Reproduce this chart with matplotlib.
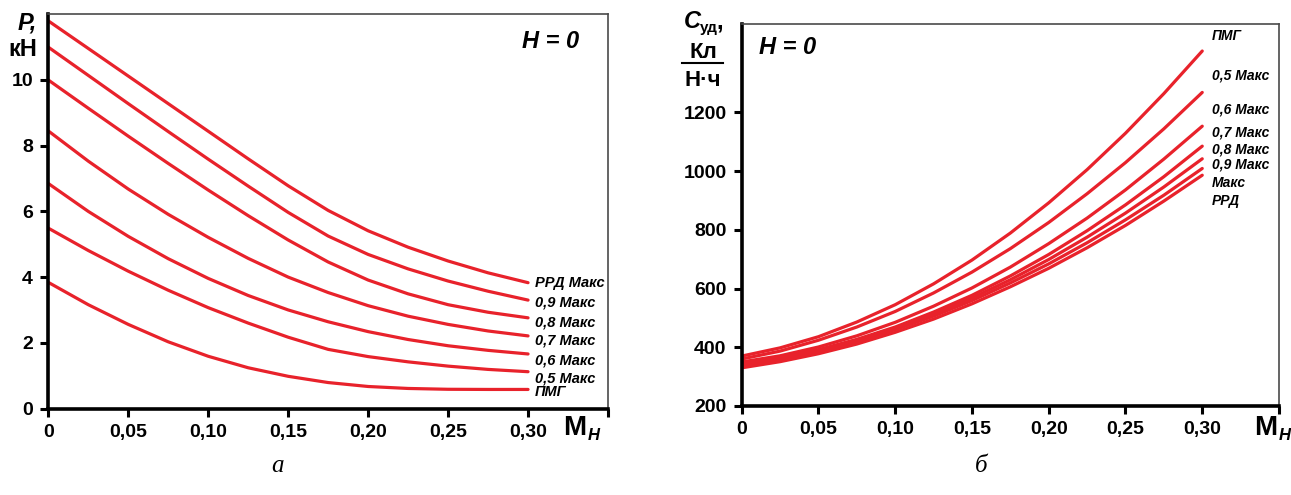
import matplotlib
matplotlib.use("Agg")
import matplotlib.pyplot as plt
from matplotlib.lines import Line2D

# --- Data ---
mach = [0, 0.025, 0.05, 0.075, 0.10, 0.125, 0.15, 0.175, 0.20, 0.225, 0.25, 0.275, 0.30]

# thrust P, kN (panel a)
thrust_labels = ["РРД Макс", "0,9 Макс", "0,8 Макс", "0,7 Макс", "0,6 Макс", "0,5 Макс", "ПМГ"]
thrust_rrd = [11.8, 10.96, 10.12, 9.28, 8.44, 7.60, 6.78, 6.03, 5.41, 4.91, 4.49, 4.13, 3.83]
thrust_09 = [11.0, 10.14, 9.28, 8.43, 7.59, 6.77, 5.97, 5.25, 4.69, 4.25, 3.88, 3.57, 3.30]
thrust_08 = [10.0, 9.14, 8.29, 7.46, 6.65, 5.87, 5.13, 4.46, 3.91, 3.49, 3.16, 2.93, 2.76]
thrust_07 = [8.45, 7.53, 6.68, 5.91, 5.21, 4.57, 4.00, 3.53, 3.13, 2.81, 2.56, 2.36, 2.21]
thrust_06 = [6.85, 6.00, 5.24, 4.56, 3.96, 3.44, 3.00, 2.64, 2.34, 2.10, 1.91, 1.77, 1.66]
thrust_05 = [5.49, 4.81, 4.18, 3.60, 3.07, 2.60, 2.17, 1.80, 1.58, 1.42, 1.29, 1.19, 1.12]
thrust_idle = [3.84, 3.16, 2.56, 2.03, 1.59, 1.24, 0.98, 0.79, 0.67, 0.61, 0.585, 0.58, 0.58]
thrust_curves = [thrust_rrd, thrust_09, thrust_08, thrust_07, thrust_06, thrust_05, thrust_idle]

# specific consumption C_ud (panel b)
sfc_labels = ["ПМГ", "0,5 Макс", "0,6 Макс", "0,7 Макс", "0,8 Макс", "0,9 Макс", "Макс\nРРД"]
sfc_idle = [370, 398, 436, 486, 545, 616, 697, 789, 892, 1005, 1129, 1264, 1409]
sfc_05 = [360, 387, 424, 469, 522, 585, 656, 736, 825, 923, 1029, 1144, 1268]
sfc_06 = [350, 371, 401, 439, 485, 540, 602, 673, 753, 840, 936, 1041, 1153]
sfc_07 = [345, 365, 392, 427, 469, 520, 577, 643, 716, 797, 885, 981, 1085]
sfc_08 = [340, 361, 389, 424, 465, 513, 568, 630, 699, 775, 857, 946, 1042]
sfc_09 = [335, 357, 385, 419, 460, 506, 559, 619, 684, 756, 834, 918, 1009]
sfc_rrd = [330, 351, 378, 411, 451, 496, 548, 606, 669, 739, 815, 898, 986]
sfc_curves = [sfc_idle, sfc_05, sfc_06, sfc_07, sfc_08, sfc_09, sfc_rrd]

x_ticks = [0, 0.05, 0.10, 0.15, 0.20, 0.25, 0.30, 0.35]
x_ticklabels = ["0", "0,05", "0,10", "0,15", "0,20", "0,25", "0,30", ""]

RED = "#e8222b"
plt.rcParams["font.family"] = ["Liberation Sans", "DejaVu Sans"]

fig = plt.figure(figsize=(12.91, 4.95), dpi=100)
W, H = 1291, 495


def px(x, y):
    return x / W, 1 - y / H


def style_axes(ax):
    for s in ("left", "bottom"):
        ax.spines[s].set_linewidth(2.6)
        ax.spines[s].set_color("black")
    for s in ("top", "right"):
        ax.spines[s].set_linewidth(1.2)
        ax.spines[s].set_color("#4a4a4a")
    ax.tick_params(direction="out", length=6, width=2.2, labelsize=14, pad=5)
    for lab in ax.get_xticklabels() + ax.get_yticklabels():
        lab.set_fontweight("bold")
    ax.set_xlim(0, 0.35)
    ax.set_xticks(x_ticks)
    ax.set_xticklabels(x_ticklabels, fontweight="bold")


# --- panel a ---
ax1 = fig.add_axes([48.3 / W, 1 - 408.5 / H, (608 - 48.3) / W, (408.5 - 14.3) / H])
for curve in thrust_curves:
    ax1.plot(mach, curve, color=RED, lw=2.3, solid_capstyle="round")
ax1.set_ylim(0, 12)
ax1.set_yticks([0, 2, 4, 6, 8, 10])
ax1.set_yticklabels(["0", "2", "4", "6", "8", "10"], fontweight="bold")
style_axes(ax1)
thrust_offsets = [0, -2, -3, -3, -5, -5, -2]
for lab, curve, dy in zip(thrust_labels, thrust_curves, thrust_offsets):
    ax1.annotate(lab, xy=(mach[-1], curve[-1]), xytext=(5, dy), textcoords="offset points",
                 ha="left", va="center", fontsize=10.5, fontweight="bold", fontstyle="italic")
ax1.text(0.898, 0.93, "H = 0", transform=ax1.transAxes, ha="center", va="center",
         fontsize=17, fontweight="bold", fontstyle="italic")

# --- panel b ---
ax2 = fig.add_axes([741.7 / W, 1 - 406 / H, (1279 - 741.7) / W, (406 - 24.3) / H])
for curve in sfc_curves:
    ax2.plot(mach, curve, color=RED, lw=2.3, solid_capstyle="round")
ax2.set_ylim(200, 1500)
ax2.set_yticks([200, 400, 600, 800, 1000, 1200])
ax2.set_yticklabels(["200", "400", "600", "800", "1000", "1200"], fontweight="bold")
style_axes(ax2)
sfc_offsets = [11, 12, 12, 10, 7, 3, -12]
for lab, curve, dy in zip(sfc_labels, sfc_curves, sfc_offsets):
    ax2.annotate(lab, xy=(mach[-1], curve[-1]), xytext=(7, dy), textcoords="offset points",
                 ha="left", va="center", fontsize=10, fontweight="bold", fontstyle="italic",
                 linespacing=1.3)
ax2.text(0.085, 0.94, "H = 0", transform=ax2.transAxes, ha="center", va="center",
         fontsize=17, fontweight="bold", fontstyle="italic")

# --- axis titles ---
fig.text(*px(37, 23), "P,", ha="right", va="center", fontsize=17, fontweight="bold", fontstyle="italic")
fig.text(*px(37, 49), "кН", ha="right", va="center", fontsize=17, fontweight="bold")

fig.text(*px(684, 22), "C", ha="left", va="center", fontsize=17, fontweight="bold", fontstyle="italic")
fig.text(*px(700, 28), "уд", ha="left", va="center", fontsize=11, fontweight="bold")
fig.text(*px(716, 22), ",", ha="left", va="center", fontsize=17, fontweight="bold")
fig.text(*px(703, 52), "Кл", ha="center", va="center", fontsize=16, fontweight="bold")
fig.add_artist(Line2D([682 / W, 723 / W], [1 - 63 / H, 1 - 63 / H], color="black", lw=1.5))
fig.text(*px(703, 81), "Н·ч", ha="center", va="center", fontsize=16, fontweight="bold")

for x0 in (563, 1254):
    fig.text(*px(x0, 428), "М", ha="left", va="center", fontsize=20, fontweight="bold")
    fig.text(*px(x0 + 25, 436), "H", ha="left", va="center", fontsize=12,
             fontweight="bold", fontstyle="italic")

# --- captions ---
fig.text(*px(278, 466), "а", ha="center", va="center", fontsize=18,
         fontstyle="italic", family=["Liberation Serif", "DejaVu Serif"])
fig.text(*px(981, 466), "б", ha="center", va="center", fontsize=18,
         fontstyle="italic", family=["Liberation Serif", "DejaVu Serif"])

fig.savefig("out.png", dpi=100)
